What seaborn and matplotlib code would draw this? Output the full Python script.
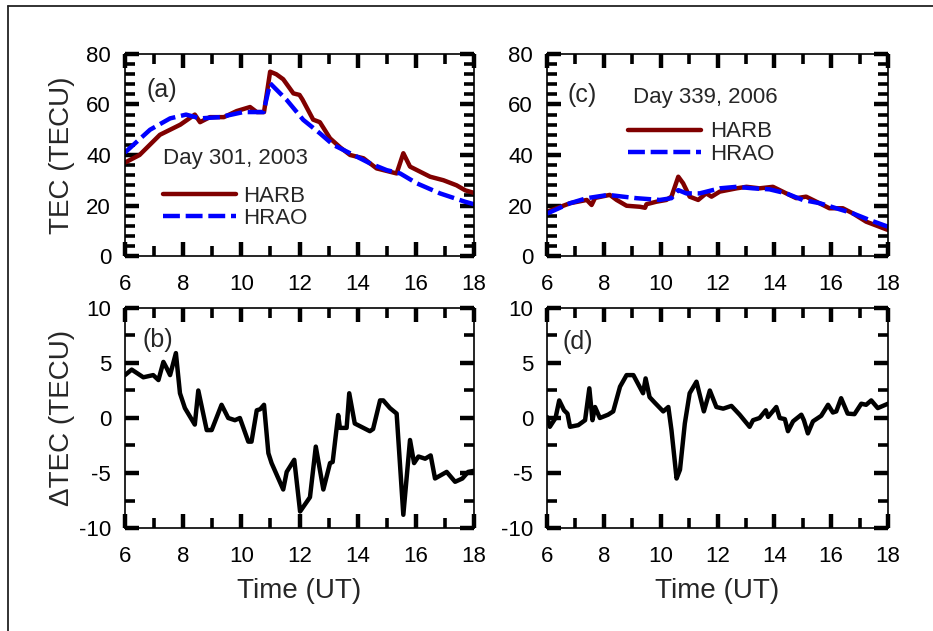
import numpy as np
import pandas as pd
import matplotlib
matplotlib.use("Agg")
import matplotlib.pyplot as plt
import seaborn as sns
from matplotlib.ticker import MultipleLocator
from matplotlib.lines import Line2D

# ---------------- data ----------------
# Panel (a): Day 301, 2003
t_a_harb = [6.0, 6.5, 7.2, 7.55, 7.9, 8.4, 8.58, 8.92, 9.4, 9.84, 10.3, 10.53, 10.78,
            10.99, 11.2, 11.44, 11.79, 12.0, 12.1, 12.47, 12.7, 13.05, 13.4, 13.74, 14.2,
            14.65, 15.34, 15.57, 15.8, 16.49, 16.95, 17.4, 17.7, 18.0]
harb_a = [37, 40, 48, 50, 52, 56, 53, 55, 55, 57.4, 59, 57, 57,
          73, 72, 70, 64.4, 63.8, 62, 54, 53, 46.6, 43, 40, 38.7,
          34.7, 32.7, 40.7, 35.4, 31.4, 30, 28, 26, 25]
t_a_hrao = [6.0, 6.86, 7.55, 8.1, 8.58, 9.27, 10.07, 10.76, 10.99, 11.56, 12.13, 12.7,
            13.16, 13.74, 14.42, 15.0, 15.46, 16.03, 16.83, 17.69, 18.0]
hrao_a = [41, 50, 54.5, 56, 54.5, 55, 57, 57, 68.4, 61.8, 53.9, 48.6,
          44, 40.7, 36.7, 34, 32.7, 28.8, 24.8, 21.5, 20.5]

# Panel (b): delta TEC, Day 301, 2003
t_b = [6.0, 6.23, 6.63, 6.97, 7.15, 7.32, 7.44, 7.55, 7.75, 7.89, 8.06, 8.4, 8.52, 8.81,
       8.98, 9.32, 9.55, 9.78, 9.95, 10.24, 10.35, 10.53, 10.65, 10.78, 10.93, 11.04,
       11.44, 11.56, 11.82, 12.02, 12.36, 12.56, 12.82, 13.05, 13.14, 13.33, 13.39, 13.62,
       13.71, 13.9, 14.42, 14.53, 14.77, 14.88, 15.11, 15.34, 15.57, 15.8, 15.94, 16.09,
       16.32, 16.51, 16.66, 17.06, 17.35, 17.6, 17.8, 18.0]
dtec_b = [3.9, 4.4, 3.7, 3.9, 3.45, 5.1, 4.5, 3.9, 5.9, 2.25, 0.9, -0.6, 2.5, -1.1,
          -1.1, 1.2, 0.0, -0.2, 0.0, -2.15, -2.15, 0.7, 0.8, 1.2, -3.2, -4.1,
          -6.5, -4.9, -3.8, -8.5, -7.2, -2.6, -6.5, -4.1, -4.0, 0.27, -0.9, -0.9,
          2.25, -0.5, -1.2, -1.0, 1.6, 1.6, 0.9, 0.4, -8.8, -2.0, -4.1, -3.5,
          -3.7, -3.4, -5.5, -4.9, -5.8, -5.5, -4.9, -4.8]

# Panel (c): Day 339, 2006
t_c_harb = [6.0, 6.81, 7.4, 7.57, 7.69, 8.21, 8.45, 8.8, 9.27, 9.45, 9.5, 9.85, 10.2,
            10.38, 10.62, 10.79, 11.02, 11.32, 11.6, 11.79, 12.08, 12.67, 13.02, 13.48,
            13.95, 14.42, 14.77, 15.12, 15.48, 15.94, 16.41, 16.76, 17.23, 18.0]
harb_c = [17.5, 20.9, 22.2, 20.2, 23.0, 24.2, 22.2, 19.9, 19.5, 19.1, 20.5, 21.5, 22.2,
          23.5, 31.4, 28.8, 23.5, 22.2, 24.8, 23.5, 25.5, 26.8, 27.4, 26.8,
          27.4, 24.8, 22.9, 23.5, 21.5, 18.9, 18.9, 16.9, 13.6, 10.3]
t_c_hrao = [6.0, 6.81, 7.4, 8.16, 8.68, 9.15, 9.97, 10.38, 10.62, 10.9, 11.37, 12.08,
            12.67, 13.25, 13.83, 14.42, 15.0, 15.6, 16.18, 16.76, 17.34, 18.0]
hrao_c = [16.8, 20.9, 22.9, 24.2, 23.5, 22.9, 22.2, 22.9, 26.1, 24.8, 24.8, 26.8,
          27.4, 26.8, 26.4, 24.8, 22.2, 20.9, 18.9, 16.9, 14.3, 11.6]

# Panel (d): delta TEC, Day 339, 2006
t_d = [6.0, 6.1, 6.3, 6.43, 6.6, 6.72, 6.81, 7.1, 7.34, 7.49, 7.6, 7.69, 7.86, 8.15,
       8.33, 8.57, 8.8, 9.04, 9.38, 9.47, 9.61, 9.79, 10.09, 10.27, 10.38, 10.56, 10.68,
       10.85, 11.02, 11.26, 11.52, 11.73, 11.96, 12.2, 12.49, 12.78, 13.13, 13.25, 13.48,
       13.7, 13.78, 14.07, 14.19, 14.37, 14.48, 14.66, 14.95, 15.04, 15.18, 15.36, 15.65,
       15.89, 16.06, 16.18, 16.35, 16.58, 16.82, 17.06, 17.23, 17.41, 17.64, 18.0]
dtec_d = [0.1, -0.8, 0.0, 1.6, 0.7, 0.4, -0.8, -0.65, -0.2, 2.7, -0.2, 1.0, 0.0, 0.3,
          0.6, 2.85, 3.9, 3.9, 2.25, 3.6, 1.9, 1.4, 0.6, 1.0, -1.1, -5.5, -4.7,
          -0.5, 2.25, 3.3, 0.6, 2.5, 1.0, 0.85, 1.1, 0.3, -0.8, -0.2, 0.0,
          0.7, 0.1, 1.0, 0.0, -0.1, -1.2, -0.3, 0.3, -0.2, -1.4, -0.3, 0.2,
          1.2, 0.5, 0.6, 1.8, 0.4, 0.35, 1.3, 1.2, 1.6, 0.9, 1.3]

series_names = ["HARB", "HRAO"]
panel_tags = ["(a)", "(b)", "(c)", "(d)"]
day_labels = ["Day 301, 2003", "Day 339, 2006"]
x_ticks = [6, 8, 10, 12, 14, 16, 18]

# ---------------- style ----------------
sns.set_theme(style="ticks")
plt.rcParams["font.family"] = ["Liberation Sans", "DejaVu Sans"]
plt.rcParams["axes.unicode_minus"] = False

RED = "#800000"
BLUE = "#0000ff"
LW = 3.2
TICK_FS = 16
LABEL_FS = 20
TEXT_FS = 16
TAG_FS = 18

W, H = 933, 631
fig = plt.figure(figsize=(W / 100, H / 100), dpi=100)
fig.patch.set_facecolor("white")


def add_ax(l, r, t, b):
    return fig.add_axes([l / W, 1 - b / H, (r - l) / W, (b - t) / H])


ax_a = add_ax(125, 474, 54, 256)
ax_b = add_ax(125, 474, 308, 528)
ax_c = add_ax(547, 888, 54, 256)
ax_d = add_ax(547, 888, 308, 528)


def draw(ax, t, v, color, dashed=False):
    df = pd.DataFrame({"t": t, "v": v})
    sns.lineplot(data=df, x="t", y="v", ax=ax, color=color, linewidth=LW,
                 legend=False, sort=True, estimator=None)
    line = ax.lines[-1]
    line.set_solid_joinstyle("round")
    line.set_solid_capstyle("round")
    if dashed:
        line.set_dashes([3.8, 1.3])
    return line


def style(ax, ylim, major_y, minor_y):
    ax.set_xlim(6, 18)
    ax.set_ylim(*ylim)
    ax.set_xticks(x_ticks)
    ax.xaxis.set_minor_locator(MultipleLocator(1))
    ax.yaxis.set_major_locator(MultipleLocator(major_y))
    ax.yaxis.set_minor_locator(MultipleLocator(minor_y))
    ax.tick_params(which="both", direction="in", top=True, right=True,
                   color="black", labelcolor="black")
    ax.tick_params(which="major", length=10, width=3.2, labelsize=TICK_FS)
    ax.tick_params(axis="x", which="major", pad=13)
    ax.tick_params(axis="y", which="major", pad=10)
    ax.tick_params(which="minor", length=7, width=2.6)
    for s in ax.spines.values():
        s.set_linewidth(1.2)
        s.set_color("black")
    ax.set_xlabel("")
    ax.set_ylabel("")
    ax.set_facecolor("white")


# (a)
la1 = draw(ax_a, t_a_harb, harb_a, RED)
la2 = draw(ax_a, t_a_hrao, hrao_a, BLUE, dashed=True)
style(ax_a, (0, 80), 20, 4)
ax_a.set_ylabel("TEC (TECU)", fontsize=LABEL_FS)
ax_a.yaxis.set_label_coords(-0.143, 0.5)
ax_a.text(0.063, 0.822, panel_tags[0], transform=ax_a.transAxes, fontsize=TAG_FS,
          va="center", ha="left")
ax_a.text(0.109, 0.485, day_labels[0], transform=ax_a.transAxes, fontsize=TEXT_FS,
          va="center", ha="left")
ax_a.legend([la1, la2], series_names, loc="upper left", bbox_to_anchor=(0.109, 0.349),
            frameon=False, fontsize=TEXT_FS, handlelength=3.3, handletextpad=0.3,
            labelspacing=0.05, borderpad=0, borderaxespad=0)

# (b)
draw(ax_b, t_b, dtec_b, "black")
style(ax_b, (-10, 10), 5, 2.5)
ax_b.set_ylabel("\u0394TEC (TECU)", fontsize=LABEL_FS)
ax_b.yaxis.set_label_coords(-0.143, 0.5)
ax_b.set_xlabel("Time (UT)", fontsize=LABEL_FS)
ax_b.xaxis.set_label_coords(0.5, -0.227)
ax_b.text(0.049, 0.855, panel_tags[1], transform=ax_b.transAxes, fontsize=TAG_FS,
          va="center", ha="left")

# (c)
lc1 = draw(ax_c, t_c_harb, harb_c, RED)
lc2 = draw(ax_c, t_c_hrao, hrao_c, BLUE, dashed=True)
style(ax_c, (0, 80), 20, 4)
ax_c.text(0.059, 0.797, panel_tags[2], transform=ax_c.transAxes, fontsize=TAG_FS,
          va="center", ha="left")
ax_c.text(0.252, 0.787, day_labels[1], transform=ax_c.transAxes, fontsize=TEXT_FS,
          va="center", ha="left")
ax_c.legend([lc1, lc2], series_names, loc="upper left", bbox_to_anchor=(0.2375, 0.666),
            frameon=False, fontsize=TEXT_FS, handlelength=3.3, handletextpad=0.4,
            labelspacing=0.05, borderpad=0, borderaxespad=0)

# (d)
draw(ax_d, t_d, dtec_d, "black")
style(ax_d, (-10, 10), 5, 2.5)
ax_d.set_xlabel("Time (UT)", fontsize=LABEL_FS)
ax_d.xaxis.set_label_coords(0.5, -0.227)
ax_d.text(0.044, 0.845, panel_tags[3], transform=ax_d.transAxes, fontsize=TAG_FS,
          va="center", ha="left")

# outer frame (left and top edges visible)
fig.add_artist(Line2D([8 / W, 8 / W], [0, 1 - 6 / H], transform=fig.transFigure,
                      color="#222222", lw=1.3))
fig.add_artist(Line2D([8 / W, 1], [1 - 6 / H, 1 - 6 / H], transform=fig.transFigure,
                      color="#222222", lw=1.3))

fig.savefig("out.png", dpi=100, facecolor="white")
